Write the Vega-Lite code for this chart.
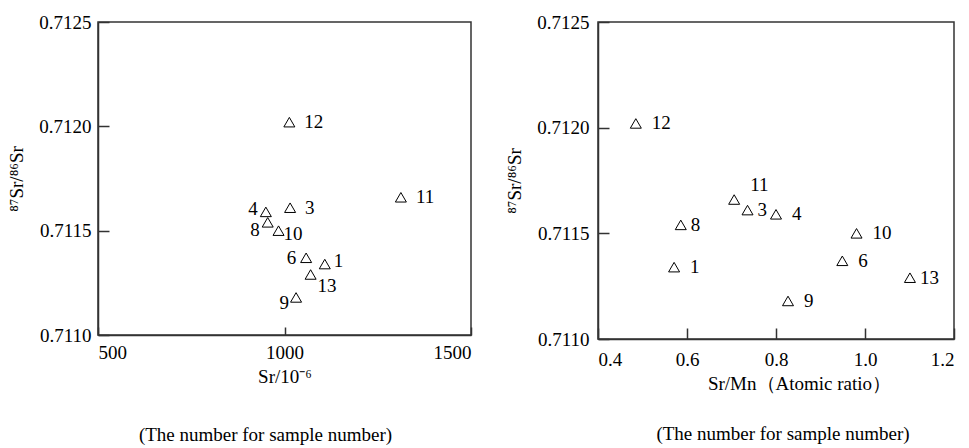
{
  "$schema": "https://vega.github.io/schema/vega-lite/v6.json",
  "background": "white",
  "padding": {"left": 7, "top": 12, "right": 5, "bottom": 5},
  "config": {
    "font": "Liberation Serif",
    "view": {"stroke": "#333", "strokeWidth": 1.5},
    "axis": {"labelFont": "Liberation Serif", "titleFont": "Liberation Serif", "labelFontSize": 19, "titleFontSize": 18, "titleFontWeight": "normal", "labelColor": "black", "titleColor": "black", "domainColor": "#333", "domainWidth": 1.5, "tickColor": "#333", "tickWidth": 1.5, "grid": false},
    "text": {"font": "Liberation Serif", "fontSize": 19, "color": "black", "baseline": "middle"}
  },
  "datasets": {
    "d": [
      {"s": 1, "sr": 1108, "srmn": 0.571, "ratio": 0.71134},
      {"s": 3, "sr": 1015, "srmn": 0.736, "ratio": 0.71161},
      {"s": 4, "sr": 950, "srmn": 0.800, "ratio": 0.71159},
      {"s": 6, "sr": 1058, "srmn": 0.949, "ratio": 0.71137},
      {"s": 8, "sr": 955, "srmn": 0.586, "ratio": 0.71154},
      {"s": 9, "sr": 1031, "srmn": 0.827, "ratio": 0.71118},
      {"s": 10, "sr": 984, "srmn": 0.981, "ratio": 0.71150},
      {"s": 11, "sr": 1312, "srmn": 0.706, "ratio": 0.71166},
      {"s": 12, "sr": 1013, "srmn": 0.485, "ratio": 0.71202},
      {"s": 13, "sr": 1070, "srmn": 1.101, "ratio": 0.71129}
    ]
  },
  "spacing": 32,
  "hconcat": [
    {
      "width": 373, "height": 313,
      "title": {"text": "(The number for sample number)", "orient": "bottom", "offset": 40, "fontSize": 19, "fontWeight": "normal", "font": "Liberation Serif", "color": "black", "dx": -19},
      "data": {"name": "d"},
      "encoding": {
        "x": {"field": "sr", "type": "quantitative", "scale": {"domain": [500, 1500], "nice": false, "zero": false},
              "axis": {"values": [500, 1000, 1500], "format": "d", "tickSize": -8, "labelPadding": 16, "labelFont": "Liberation Serif", "labelFontSize": 19, "labelColor": "black", "title": "Sr/10⁻⁶", "titlePadding": 5, "titleFont": "Liberation Serif", "titleFontSize": 19}},
        "y": {"field": "ratio", "type": "quantitative", "scale": {"domain": [0.711, 0.7125], "nice": false, "zero": false},
              "axis": {"values": [0.711, 0.7115, 0.712, 0.7125], "format": ".4f", "tickSize": -11, "labelPadding": 18, "labelFont": "Liberation Serif", "labelFontSize": 19, "labelColor": "black", "title": "⁸⁷Sr/⁸⁶Sr", "titlePadding": 12, "titleFont": "Liberation Serif", "titleFontSize": 19}}
      },
      "layer": [
        {"mark": {"type": "point", "shape": "triangle-up", "filled": false, "stroke": "black", "strokeWidth": 1, "size": 121, "opacity": 1}},
        {"transform": [{"filter": "datum.s == 12 || datum.s == 11 || datum.s == 3"}], "mark": {"type": "text", "align": "left", "dx": 15}, "encoding": {"text": {"field": "s"}}},
        {"transform": [{"filter": "datum.s == 4"}], "mark": {"type": "text", "align": "right", "dx": -8, "dy": -3}, "encoding": {"text": {"field": "s"}}},
        {"transform": [{"filter": "datum.s == 8"}], "mark": {"type": "text", "align": "right", "dx": -8, "dy": 8}, "encoding": {"text": {"field": "s"}}},
        {"transform": [{"filter": "datum.s == 6"}], "mark": {"type": "text", "align": "right", "dx": -10, "dy": 0}, "encoding": {"text": {"field": "s"}}},
        {"transform": [{"filter": "datum.s == 9"}], "mark": {"type": "text", "align": "right", "dx": -7, "dy": 6}, "encoding": {"text": {"field": "s"}}},
        {"transform": [{"filter": "datum.s == 10"}], "mark": {"type": "text", "align": "left", "dx": 5, "dy": 3}, "encoding": {"text": {"field": "s"}}},
        {"transform": [{"filter": "datum.s == 1"}], "mark": {"type": "text", "align": "left", "dx": 9, "dy": -3}, "encoding": {"text": {"field": "s"}}},
        {"transform": [{"filter": "datum.s == 13"}], "mark": {"type": "text", "align": "left", "dx": 7, "dy": 12}, "encoding": {"text": {"field": "s"}}},
        {"data": {"values": [{"label": "(a)"}]}, "mark": {"type": "text", "align": "right"},
         "encoding": {"x": {"datum": 1468, "type": "quantitative"}, "y": {"datum": 0.711097, "type": "quantitative"}, "text": {"field": "label"}}}
      ]
    },
    {
      "width": 356, "height": 317,
      "title": {"text": "(The number for sample number)", "orient": "bottom", "offset": 32, "fontSize": 19, "fontWeight": "normal", "font": "Liberation Serif", "color": "black", "dx": 7},
      "data": {"name": "d"},
      "encoding": {
        "x": {"field": "srmn", "type": "quantitative", "scale": {"domain": [0.4, 1.2], "nice": false, "zero": false},
              "axis": {"values": [0.4, 0.6, 0.8, 1.0, 1.2], "format": ".1f", "tickSize": -11, "labelPadding": 22, "labelFont": "Liberation Serif", "labelFontSize": 19, "labelColor": "black", "title": "Sr/Mn（Atomic ratio）", "titlePadding": 5, "titleX": 201, "titleFont": "Liberation Serif", "titleFontSize": 19}},
        "y": {"field": "ratio", "type": "quantitative", "scale": {"domain": [0.711, 0.7125], "nice": false, "zero": false},
              "axis": {"values": [0.711, 0.7115, 0.712, 0.7125], "format": ".4f", "tickSize": -11, "labelPadding": 20, "labelFont": "Liberation Serif", "labelFontSize": 19, "labelColor": "black", "title": "⁸⁷Sr/⁸⁶Sr", "titlePadding": 12, "titleFont": "Liberation Serif", "titleFontSize": 19}}
      },
      "layer": [
        {"mark": {"type": "point", "shape": "triangle-up", "filled": false, "stroke": "black", "strokeWidth": 1, "size": 121, "opacity": 1}},
        {"transform": [{"filter": "datum.s == 12 || datum.s == 4 || datum.s == 1 || datum.s == 10 || datum.s == 6 || datum.s == 9"}], "mark": {"type": "text", "align": "left", "dx": 16}, "encoding": {"text": {"field": "s"}}},
        {"transform": [{"filter": "datum.s == 3 || datum.s == 8 || datum.s == 13"}], "mark": {"type": "text", "align": "left", "dx": 10}, "encoding": {"text": {"field": "s"}}},
        {"transform": [{"filter": "datum.s == 11"}], "mark": {"type": "text", "align": "left", "dx": 16, "dy": -15}, "encoding": {"text": {"field": "s"}}},
        {"data": {"values": [{"label": "(b)"}]}, "mark": {"type": "text", "align": "right"},
         "encoding": {"x": {"datum": 1.184, "type": "quantitative"}, "y": {"datum": 0.711113, "type": "quantitative"}, "text": {"field": "label"}}}
      ]
    }
  ]
}
